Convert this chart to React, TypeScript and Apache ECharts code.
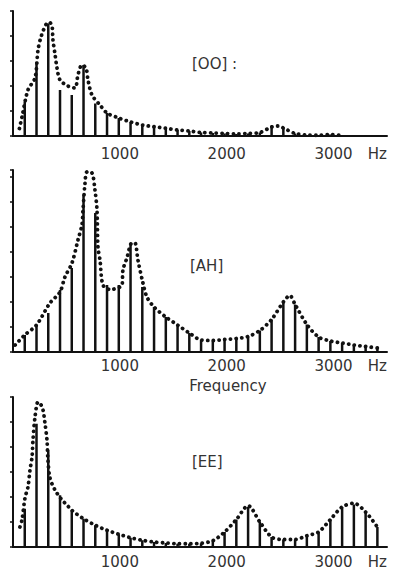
import React, { useEffect, useRef } from "react";
import * as echarts from "echarts";

// Harmonic frequencies (Hz)
const HARMONICS = [
  110, 220, 330, 440, 550, 660, 770, 880, 990, 1100, 1210, 1320, 1430, 1540, 1650, 1760,
  1870, 1980, 2090, 2200, 2310, 2420, 2530, 2640, 2750, 2860, 2970, 3080, 3190, 3300, 3410,
];

// Harmonic amplitudes per vowel
const OO_BARS = [
  13.7, 29.7, 45, 18.4, 16.4, 28.4, 13, 9.2, 7.2, 5.6, 4.4, 3.7, 3.1, 2.4, 2, 1.4,
  1.2, 1, 0.8, 1, 1.4, 3.6, 3.2, 1, 0.4, 0.3, 0.6, 0.2, 0.2, 0.2, 0.2,
];
const AH_BARS = [
  6.8, 10.8, 15.6, 24.8, 33.6, 62.8, 55.6, 26.8, 26.8, 43.6, 26, 18, 14, 10.8, 7.6, 4.8,
  4.6, 5, 5.4, 6.2, 8.6, 13, 20, 19, 11, 6, 4.4, 3.6, 2.8, 2.2, 1.6,
];
const EE_BARS = [
  15.3, 49.3, 38.7, 20.7, 14.7, 11.3, 8.7, 6.7, 5.1, 3.7, 2.7, 2, 1.6, 1.3, 1.3, 1.5,
  2.5, 6, 11, 16, 10, 4, 3, 3, 4.5, 6, 11, 16, 17, 14, 8,
];

// Spectral envelopes [Hz, level]
const OO_ENV: [number, number][] = [
  [60, 3], [84, 7.6], [140, 18.4], [206, 23.2], [234, 34.4], [262, 39.6], [309, 44.6],
  [340, 45.5], [365, 44], [374, 38.4], [393, 32.8], [412, 27.2], [440, 22.4], [514, 20],
  [580, 19.2], [608, 24.4], [645, 28.4], [683, 27.2], [702, 22.4], [739, 16.4], [814, 12.4],
  [880, 9.2], [990, 7.2], [1100, 5.6], [1210, 4.4], [1320, 3.7], [1430, 3.1], [1540, 2.4],
  [1650, 2], [1760, 1.4], [1870, 1.2], [1980, 1], [2090, 0.8], [2200, 1], [2310, 1.4],
  [2420, 3.6], [2480, 4], [2530, 3.2], [2640, 1], [2750, 0.4], [2860, 0.3], [2970, 0.6],
  [3080, 0.2],
];
const AH_ENV: [number, number][] = [
  [20, 2.8], [110, 6.8], [220, 10.8], [346, 19.6], [440, 24], [486, 30], [552, 35.6],
  [608, 44.8], [645, 50.8], [655, 56.8], [674, 67.6], [692, 72], [739, 71.6], [767, 64.8],
  [786, 56.8], [795, 42], [814, 36.8], [842, 26.8], [907, 25], [1020, 26.8], [1029, 32.8],
  [1066, 37.6], [1113, 43.6], [1141, 43.6], [1169, 36.8], [1216, 27.6], [1253, 22],
  [1320, 18], [1430, 14], [1540, 10.8], [1650, 7.6], [1760, 4.8], [1870, 4.6], [1980, 5],
  [2090, 5.4], [2200, 6.2], [2310, 8.6], [2420, 13], [2530, 20], [2590, 22.6], [2640, 19],
  [2750, 11], [2860, 6], [2970, 4.4], [3080, 3.6], [3190, 2.8], [3300, 2.2], [3410, 1.6],
];
const EE_ENV: [number, number][] = [
  [65, 8], [84, 10.8], [112, 19.6], [140, 24], [159, 30.8], [178, 36], [187, 42.8],
  [206, 52], [234, 58], [260, 57], [281, 54.8], [299, 49.6], [318, 42.8], [327, 34.8],
  [346, 27.6], [393, 22.8], [458, 18.8], [505, 16.8], [550, 14.7], [660, 11.3], [770, 8.7],
  [880, 6.7], [990, 5.1], [1100, 3.7], [1210, 2.7], [1320, 2], [1430, 1.6], [1540, 1.3],
  [1650, 1.3], [1760, 1.5], [1870, 2.5], [1980, 6], [2090, 11], [2200, 16.5], [2310, 10],
  [2420, 4], [2530, 3], [2640, 3], [2750, 4.5], [2860, 6], [2970, 11], [3080, 16],
  [3190, 17.5], [3300, 14], [3410, 8],
];

const X_TICKS = [1000, 2000, 3000];
const VOWELS = ["[OO] :", "[AH]", "[EE]"];
const X_TITLE = "Frequency";
const UNIT = "Hz";

const INK = "#111";
const TEXT = "#333";
const FONT = "DejaVu Sans";

export default function App() {
  const ref = useRef<HTMLDivElement>(null);

  useEffect(() => {
    if (!ref.current) return;
    const chart = echarts.init(ref.current, null, { renderer: "svg" });

    const panels = [
      { bars: OO_BARS, env: OO_ENV, top: 11, height: 125, max: 50, margin: 10, label: [192, 64] },
      { bars: AH_BARS, env: AH_ENV, top: 170, height: 182, max: 72.8, margin: 6, label: [190, 266] },
      { bars: EE_BARS, env: EE_ENV, top: 397, height: 150, max: 60, margin: 7, label: [192, 462] },
    ];

    const grid = panels.map((p) => ({ left: 13, right: 8, top: p.top, height: p.height }));

    const xAxis = panels.map((p, i) => ({
      type: "value",
      gridIndex: i,
      min: 0,
      max: 3500,
      interval: 1000,
      axisLine: { show: true, lineStyle: { color: INK, width: 2 } },
      axisTick: { show: false },
      splitLine: { show: false },
      axisLabel: {
        color: TEXT,
        fontSize: 15,
        fontFamily: FONT,
        margin: p.margin,
        formatter: (v: number) => (X_TICKS.includes(v) ? String(v) : ""),
      },
      name: UNIT,
      nameLocation: "end",
      nameGap: 0,
      nameTextStyle: {
        color: TEXT,
        fontSize: 15,
        fontFamily: FONT,
        align: "right",
        verticalAlign: "top",
        padding: [p.margin, 0, 0, 0],
      },
    }));

    const yAxis = panels.map((p, i) => ({
      type: "value",
      gridIndex: i,
      min: 0,
      max: p.max,
      interval: 10,
      axisLine: { show: true, lineStyle: { color: INK, width: 2 } },
      axisTick: { show: true, length: 3, lineStyle: { color: INK, width: 1.5 } },
      axisLabel: { show: false },
      splitLine: { show: false },
    }));

    const series: any[] = [];
    panels.forEach((p, i) => {
      series.push({
        type: "bar",
        xAxisIndex: i,
        yAxisIndex: i,
        data: HARMONICS.map((f, j) => [f, p.bars[j]]),
        barWidth: 2.5,
        itemStyle: { color: INK },
        silent: true,
      });
      series.push({
        type: "line",
        xAxisIndex: i,
        yAxisIndex: i,
        data: p.env,
        showSymbol: false,
        symbol: "none",
        smooth: 0.3,
        clip: false,
        lineStyle: { color: INK, width: 3.8, type: [0.1, 5.6], cap: "round" },
        silent: true,
      });
    });

    const textStyle = (text: string, align: string) => ({
      text,
      fill: TEXT,
      fontSize: 15,
      fontFamily: FONT,
      align,
      verticalAlign: "middle",
      textAlign: align,
      textVerticalAlign: "middle",
    });

    const graphic: any[] = panels.map((p, i) => ({
      type: "text",
      x: p.label[0],
      y: p.label[1],
      style: textStyle(VOWELS[i], "left"),
    }));
    graphic.push({ type: "text", x: 228, y: 386, style: textStyle(X_TITLE, "center") });

    chart.setOption({
      animation: false,
      backgroundColor: "#fff",
      grid,
      xAxis,
      yAxis,
      series,
      graphic,
    });

    return () => chart.dispose();
  }, []);

  return (
    <div
      ref={ref}
      style={{ position: "absolute", left: 0, top: 0, width: 395, height: 574 }}
    />
  );
}
